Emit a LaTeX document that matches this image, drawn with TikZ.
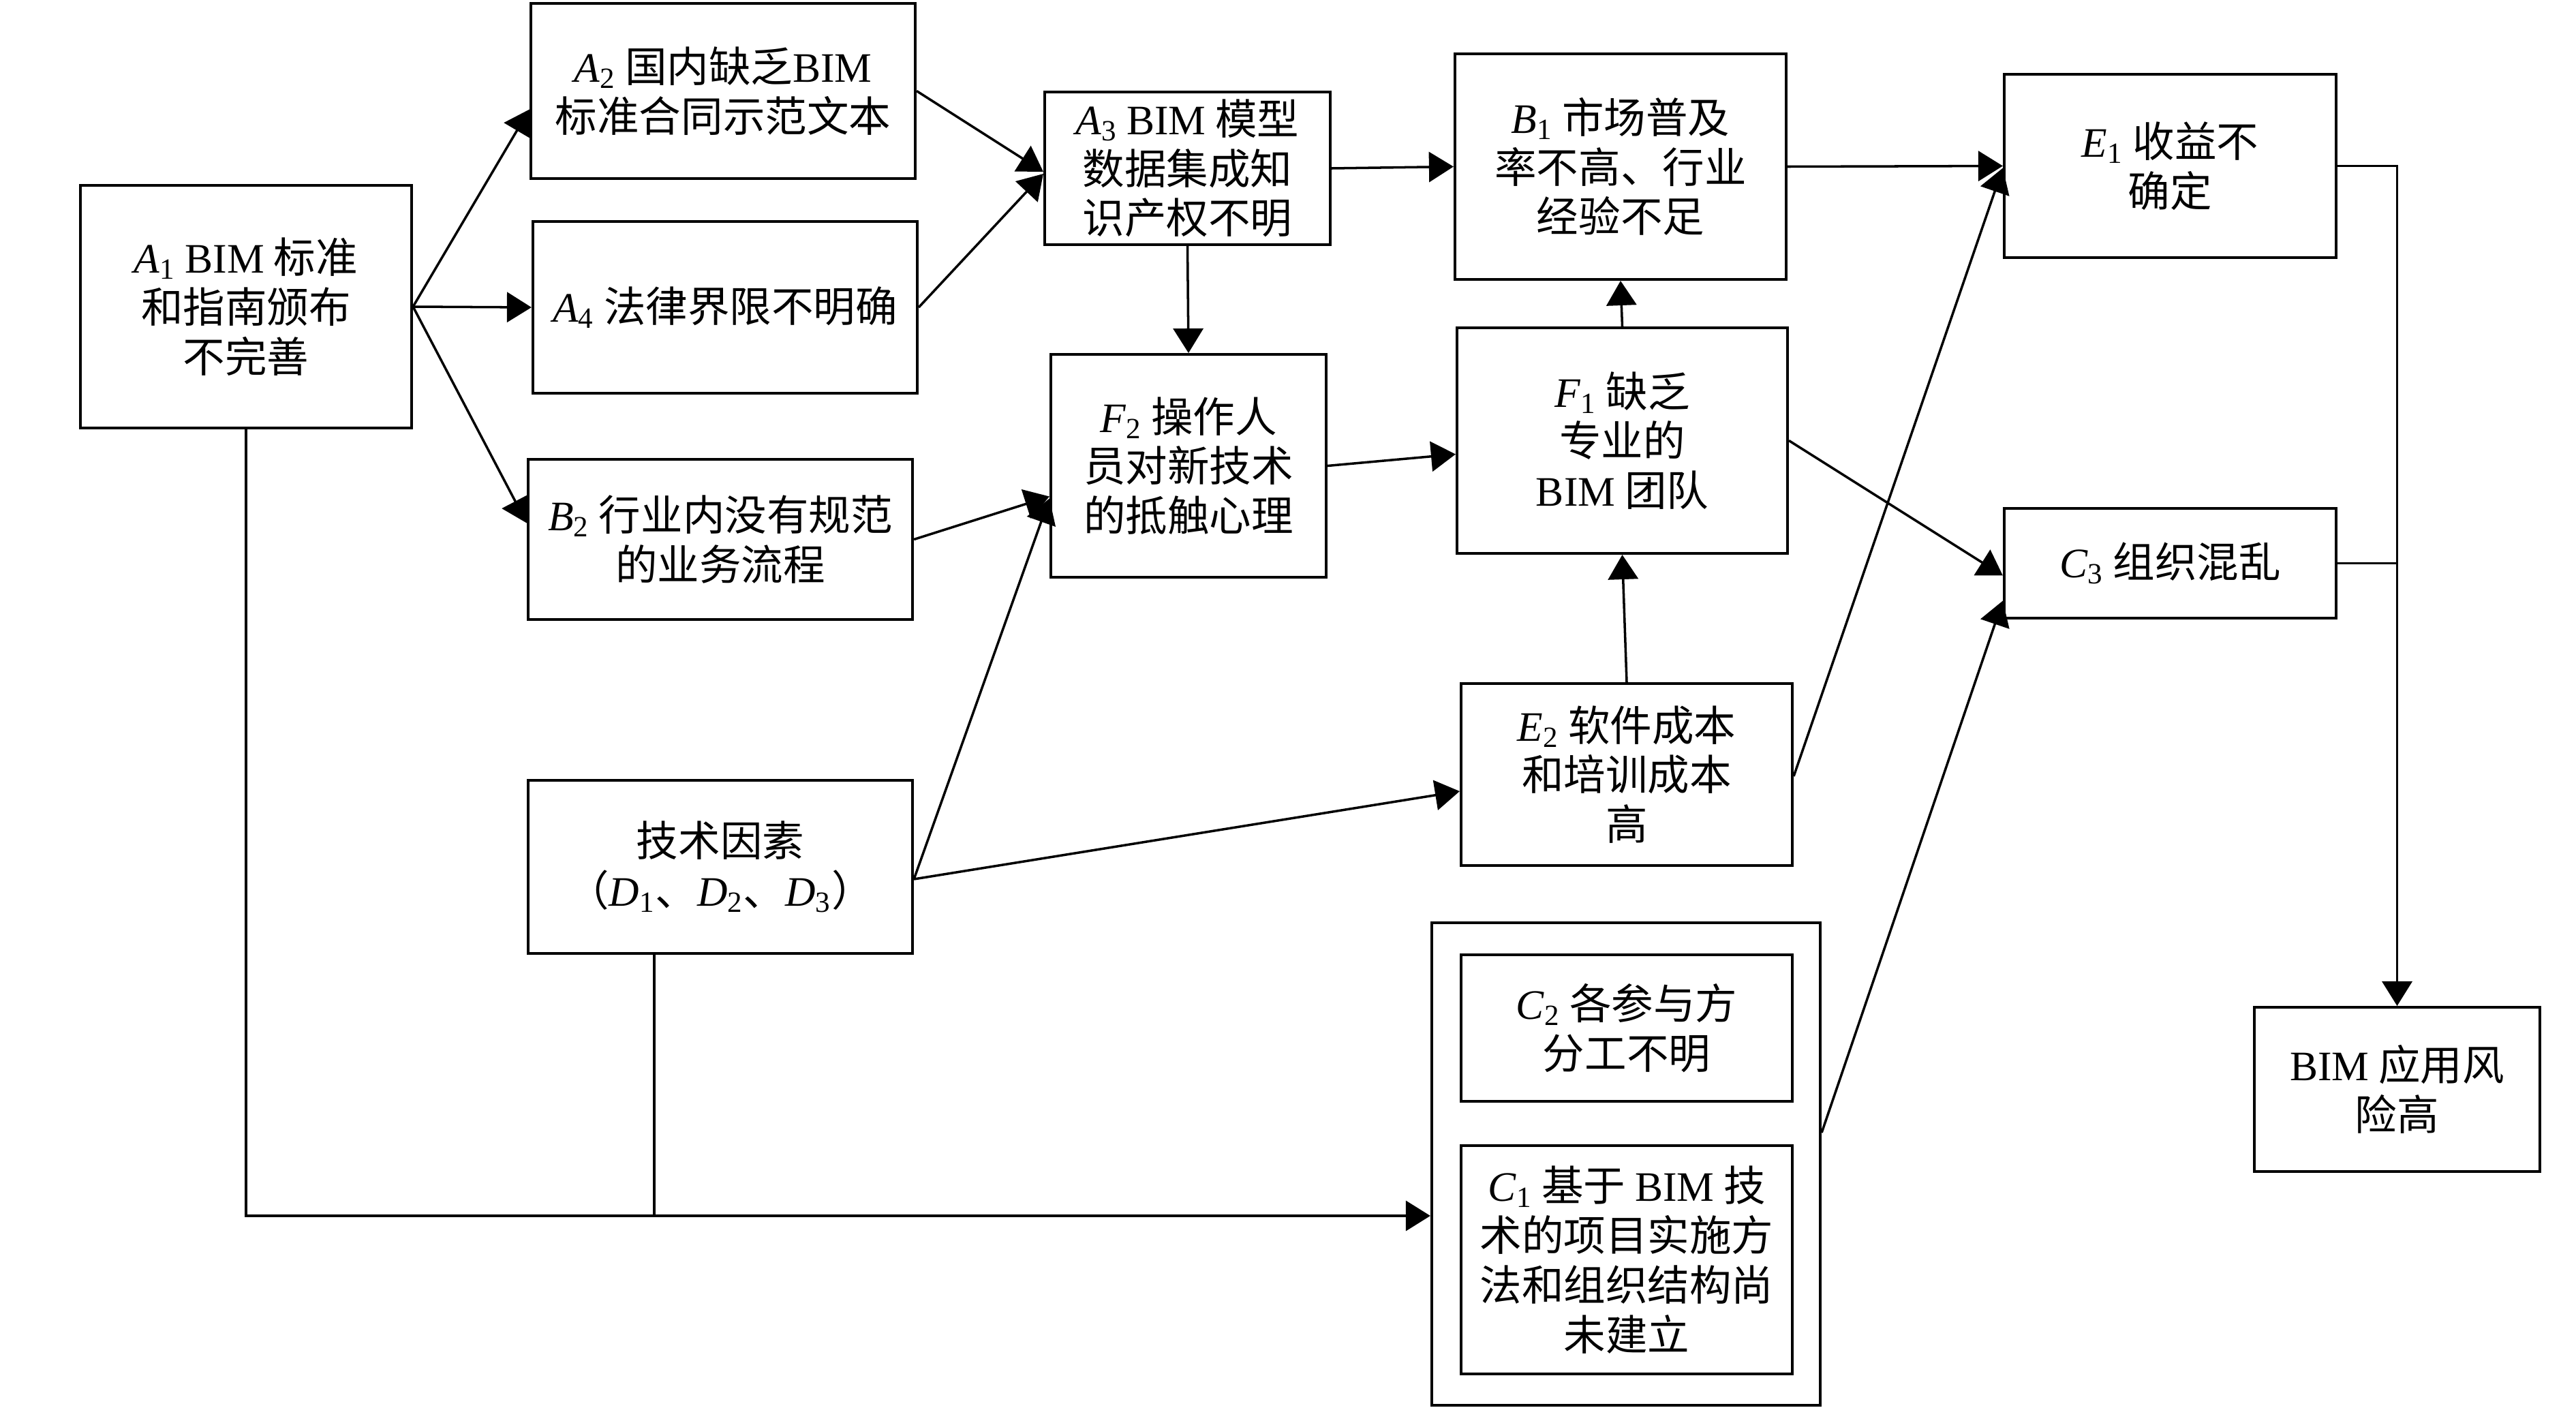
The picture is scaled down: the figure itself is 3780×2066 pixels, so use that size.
\documentclass[tikz,border=0pt]{standalone}
\usepackage{fontspec}
\setmainfont{Noto Sans CJK SC}
\newfontfamily\lat{Liberation Serif}
\usetikzlibrary{arrows.meta,calc,positioning}
\newcommand{\fv}[2]{{\lat\textit{#1}\textsubscript{#2}}}
\newcommand{\bim}{{\lat BIM}}

\begin{document}
\begin{tikzpicture}[x=0.01cm, y=-0.01cm,
    risk box/.style={draw, rectangle, line width=1.1pt, align=center, inner sep=0pt, font=\fontsize{17.5}{20.7}\selectfont},
    risk line/.style={line width=1pt},
    risk arrow/.style={risk line, -{Triangle[length=3.6mm,width=4.4mm]}}]
    \useasboundingbox (0,0) rectangle (3780,2066);

    \node[risk box, minimum width=4.86cm, minimum height=3.56cm] (a1) at (361,450) {\fv{A}{1} \bim{} 标准\\和指南颁布\\不完善};
    \node[risk box, minimum width=5.64cm, minimum height=2.57cm] (a2) at (1061,133.5) {\fv{A}{2} 国内缺乏\bim\\标准合同示范文本};
    \node[risk box, minimum width=5.64cm, minimum height=2.52cm] (a4) at (1064,451) {\fv{A}{4} 法律界限不明确};
    \node[risk box, minimum width=5.64cm, minimum height=2.35cm] (b2) at (1057,791.5) {\fv{B}{2} 行业内没有规范\\的业务流程};
    \node[risk box, minimum width=5.64cm, minimum height=2.54cm] (tech) at (1057,1272) {技术因素\\（\fv{D}{1}、\fv{D}{2}、\fv{D}{3}）};
    \node[risk box, minimum width=4.19cm, minimum height=2.24cm] (a3) at (1742.5,247) {\fv{A}{3} \bim{} 模型\\数据集成知\\识产权不明};
    \node[risk box, minimum width=4.04cm, minimum height=3.27cm] (f2) at (1744,683.5) {\fv{F}{2} 操作人\\员对新技术\\的抵触心理};
    \node[risk box, minimum width=4.86cm, minimum height=3.31cm] (b1) at (2378,244.5) {\fv{B}{1} 市场普及\\率不高、行业\\经验不足};
    \node[risk box, minimum width=4.85cm, minimum height=3.31cm] (f1) at (2380.5,646.5) {\fv{F}{1} 缺乏\\专业的\\\bim{} 团队};
    \node[risk box, minimum width=4.86cm, minimum height=2.67cm] (e2) at (2387,1136.5) {\fv{E}{2} 软件成本\\和培训成本\\高};
    \node[risk box, minimum width=5.70cm, minimum height=7.08cm] (cout) at (2386,1708) {};
    \node[risk box, minimum width=4.86cm, minimum height=2.15cm] (c2) at (2387,1508.5) {\fv{C}{2} 各参与方\\分工不明};
    \node[risk box, minimum width=4.86cm, minimum height=3.35cm] (c1) at (2387,1848.5) {\fv{C}{1} 基于 \bim{} 技\\术的项目实施方\\法和组织结构尚\\未建立};
    \node[risk box, minimum width=4.87cm, minimum height=2.69cm] (e1) at (3184.5,243.5) {\fv{E}{1} 收益不\\确定};
    \node[risk box, minimum width=4.87cm, minimum height=1.61cm] (c3) at (3184.5,826.5) {\fv{C}{3} 组织混乱};
    \node[risk box, minimum width=4.19cm, minimum height=2.41cm] (risk) at (3517.5,1598.5) {\bim{} 应用风\\险高};

    \coordinate (cin) at ($(cout.west)+(0,76)$);
    \coordinate (tdrop) at ($(tech.south)+(-97,0)$);

    \draw[risk arrow] (a1.east) -- ($(a2.west)+(0,27)$);
    \draw[risk arrow] (a1.east) -- (a4.west);
    \draw[risk arrow] (a1.east) -- ($(b2.west)+(0,-24)$);
    \draw[risk arrow] (a2.east) -- ($(a3.west)+(0,5)$);
    \draw[risk arrow] (a4.east) -- ($(a3.west)+(0,8)$);
    \draw[risk arrow] (a3.east) -- (b1.west);
    \draw[risk arrow] (a3.south) -- (f2.north);
    \draw[risk arrow] (b2.east) -- ($(f2.west)+(0,45)$);
    \draw[risk arrow] ($(tech.east)+(0,18)$) -- ($(f2.west)+(0,48)$);
    \draw[risk arrow] ($(tech.east)+(0,18)$) -- ($(e2.west)+(0,24.5)$);
    \draw[risk arrow] (f2.east) -- ($(f1.west)+(0,20)$);
    \draw[risk arrow] (f1.north) -- (b1.south);
    \draw[risk arrow] (e2.north) -- (f1.south);
    \draw[risk arrow] (b1.east) -- (e1.west);
    \draw[risk arrow] ($(e2.east)+(0,2.5)$) -- ($(e1.west)+(0,3)$);
    \draw[risk arrow] (f1.east) -- ($(c3.west)+(0,18)$);
    \draw[risk arrow] ($(cout.east)+(0,-46)$) -- ($(c3.west)+(0,55)$);
    \draw[risk arrow] (e1.east) -| (risk.north);
    \draw[risk line] (c3.east) -- (c3.east -| risk.north);
    \draw[risk arrow] (a1.south) |- (cin);
    \draw[risk line] (tdrop) -- (tdrop |- cin);
\end{tikzpicture}
\end{document}
